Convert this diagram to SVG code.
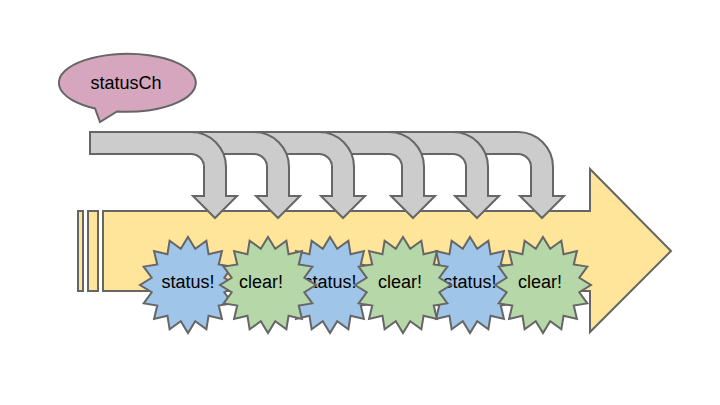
<svg xmlns="http://www.w3.org/2000/svg" xmlns:xlink="http://www.w3.org/1999/xlink" width="720" height="405" viewBox="0 0 720 405">
<style>
.ln{stroke:#666666;stroke-width:2;stroke-linejoin:miter}
.yel{fill:#ffe599}
.gry{fill:#cccccc}
.blu{fill:#9fc5e8}
.grn{fill:#b6d7a8}
.pnk{fill:#d5a6bd}
.t{font-family:"Liberation Sans",Arial,sans-serif;font-size:18px;fill:#000;text-anchor:middle}
</style>
<defs>
<polygon id="star16" points="0,-48 7.22,-36.29 18.37,-44.35 20.56,-30.76 33.94,-33.94 30.76,-20.56 44.35,-18.37 36.29,-7.22 48,0 36.29,7.22 44.35,18.37 30.76,20.56 33.94,33.94 20.56,30.76 18.37,44.35 7.22,36.29 0,48 -7.22,36.29 -18.37,44.35 -20.56,30.76 -33.94,33.94 -30.76,20.56 -44.35,18.37 -36.29,7.22 -48,0 -36.29,-7.22 -44.35,-18.37 -30.76,-20.56 -33.94,-33.94 -20.56,-30.76 -18.37,-44.35 -7.22,-36.29"/>
</defs>
<rect width="720" height="405" fill="#ffffff"/>
<g id="timeline">
<rect class="yel ln" x="78" y="211" width="5" height="80"/>
<rect class="yel ln" x="88" y="211" width="10" height="80"/>
<path class="yel ln" d="M103,211 H590 V169 L671,251 L590,332 V291 H103 Z"/>
</g>
<g id="connectors">
<path class="gry ln" d="M90,132 H518 A35,35 0 0 1 553,167 V196 H564 L542,218 L520,196 H531 V167 A13,13 0 0 0 518,154 H90 Z"/>
<path class="gry ln" d="M90,132 H453 A35,35 0 0 1 488,167 V196 H499 L477,218 L455,196 H466 V167 A13,13 0 0 0 453,154 H90 Z"/>
<path class="gry ln" d="M90,132 H389 A35,35 0 0 1 424,167 V196 H435 L413,218 L391,196 H402 V167 A13,13 0 0 0 389,154 H90 Z"/>
<path class="gry ln" d="M90,132 H319 A35,35 0 0 1 354,167 V196 H365 L343,218 L321,196 H332 V167 A13,13 0 0 0 319,154 H90 Z"/>
<path class="gry ln" d="M90,132 H254 A35,35 0 0 1 289,167 V196 H300 L278,218 L256,196 H267 V167 A13,13 0 0 0 254,154 H90 Z"/>
<path class="gry ln" d="M90,132 H191 A35,35 0 0 1 226,167 V196 H237 L215,218 L193,196 H204 V167 A13,13 0 0 0 191,154 H90 Z"/>
</g>
<g id="statusCh">
<path class="pnk ln" d="M95,108.4 L100,122 L117,111.5 A68.5,29 0 1 0 95,108.4 Z"/>
<text class="t" x="126" y="89">statusCh</text>
</g>
<g id="status1">
<use xlink:href="#star16" href="#star16" class="blu ln" transform="translate(188,285)"/>
<text class="t" x="188" y="288">status!</text>
</g>
<g id="status2">
<use xlink:href="#star16" href="#star16" class="blu ln" transform="translate(330,285)"/>
<text class="t" x="330" y="288">status!</text>
</g>
<g id="status3">
<use xlink:href="#star16" href="#star16" class="blu ln" transform="translate(470,285)"/>
<text class="t" x="470" y="288">status!</text>
</g>
<g id="clear1">
<use xlink:href="#star16" href="#star16" class="grn ln" transform="translate(268,285)"/>
<text class="t" x="261" y="288">clear!</text>
</g>
<g id="clear2">
<use xlink:href="#star16" href="#star16" class="grn ln" transform="translate(403,285)"/>
<text class="t" x="400" y="288">clear!</text>
</g>
<g id="clear3">
<use xlink:href="#star16" href="#star16" class="grn ln" transform="translate(543,285)"/>
<text class="t" x="540" y="288">clear!</text>
</g>
</svg>
